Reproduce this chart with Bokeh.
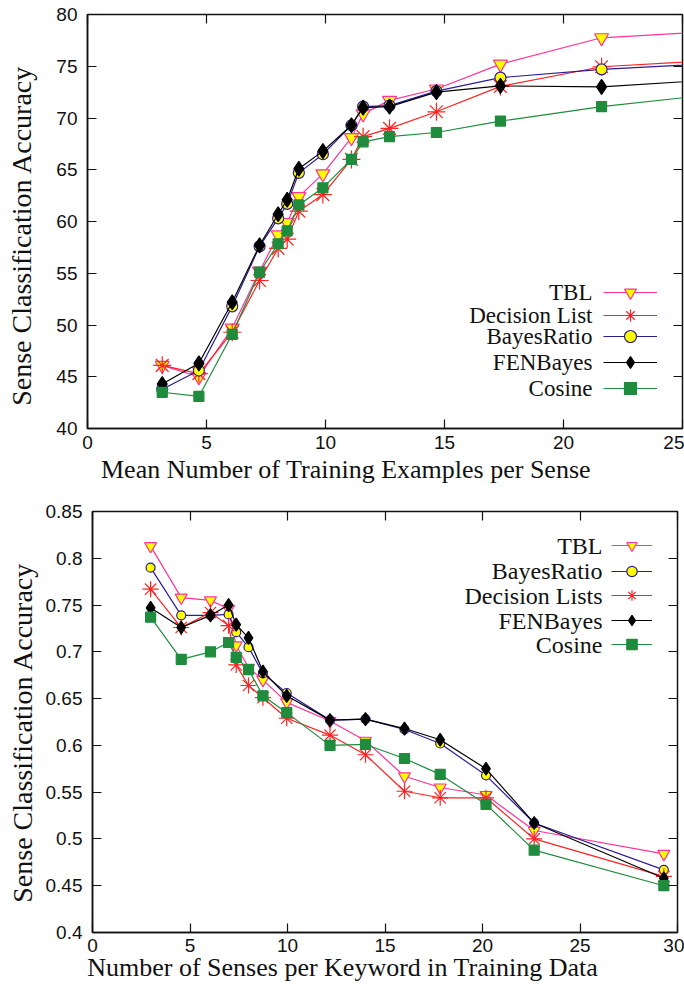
from bokeh.plotting import figure
from bokeh.models import LinearAxis, FixedTicker, Legend, LegendItem, Label, Range1d
from bokeh.layouts import column
from bokeh.embed import file_html
from bokeh.resources import INLINE

# ---------------- data: top chart ----------------
top_x = [3.14, 4.68, 6.08, 7.23, 8.01, 8.39, 8.88, 9.89, 11.09, 11.58, 12.69, 14.66, 17.35, 21.6, 27.0]
top_tbl = [46.1, 45.0, 49.7, 55.2, 58.7, 59.9, 62.4, 64.6, 68.1, 70.4, 71.7, 72.8, 75.2, 77.75, 78.46]
top_dl = [46.1, 45.3, 49.3, 54.3, 57.4, 58.3, 61.0, 62.6, 66.0, 68.2, 69.0, 70.6, 73.05, 74.95, 75.65]
top_br = [43.8, 45.6, 51.8, 57.6, 60.3, 61.7, 64.7, 66.5, 69.3, 71.1, 71.2, 72.6, 73.9, 74.7, 75.34]
top_fen = [44.3, 46.3, 52.2, 57.7, 60.7, 62.1, 65.1, 66.8, 69.3, 71.0, 71.1, 72.5, 73.1, 73.0, 73.79]
top_cos = [43.5, 43.1, 49.1, 55.1, 57.85, 59.1, 61.6, 63.25, 66.0, 67.7, 68.2, 68.6, 69.7, 71.1, 72.45]
top_names = ["TBL", "Decision List", "BayesRatio", "FENBayes", "Cosine"]
top_xticks = [0, 5, 10, 15, 20, 25]
top_xtick_labels = ["0", "5", "10", "15", "20", "25"]
top_yticks = [40, 45, 50, 55, 60, 65, 70, 75, 80]
top_ytick_labels = ["40", "45", "50", "55", "60", "65", "70", "75", "80"]
top_xlabel = "Mean Number of Training Examples per Sense"
top_ylabel = "Sense Classification Accuracy"

# ---------------- data: bottom chart ----------------
bot_x = [2.98, 4.55, 6.05, 6.98, 7.37, 8.0, 8.74, 9.96, 12.18, 14.0, 16.0, 17.83, 20.18, 22.65, 29.3]
bot_tbl = [0.813, 0.758, 0.755, 0.746, 0.707, 0.683, 0.670, 0.646, 0.626, 0.605, 0.567, 0.555, 0.547, 0.509, 0.484]
bot_br = [0.790, 0.739, 0.739, 0.740, 0.721, 0.705, 0.677, 0.656, 0.627, 0.628, 0.617, 0.602, 0.568, 0.517, 0.467]
bot_dl = [0.767, 0.726, 0.742, 0.728, 0.686, 0.664, 0.651, 0.629, 0.611, 0.590, 0.551, 0.544, 0.544, 0.500, 0.460]
bot_fen = [0.747, 0.726, 0.739, 0.750, 0.729, 0.715, 0.679, 0.653, 0.627, 0.628, 0.618, 0.606, 0.575, 0.517, 0.458]
bot_cos = [0.737, 0.692, 0.700, 0.710, 0.694, 0.681, 0.653, 0.635, 0.600, 0.601, 0.586, 0.569, 0.537, 0.488, 0.450]
bot_names = ["TBL", "BayesRatio", "Decision Lists", "FENBayes", "Cosine"]
bot_xticks = [0, 5, 10, 15, 20, 25, 30]
bot_xtick_labels = ["0", "5", "10", "15", "20", "25", "30"]
bot_yticks = [0.4, 0.45, 0.5, 0.55, 0.6, 0.65, 0.7, 0.75, 0.8, 0.85]
bot_ytick_labels = ["0.4", "0.45", "0.5", "0.55", "0.6", "0.65", "0.7", "0.75", "0.8", "0.85"]
bot_xlabel = "Number of Senses per Keyword in Training Data"
bot_ylabel = "Sense Classification Accuracy"

PINK = "#ff3399"
RED = "#ff2222"
BLUE = "#2c1c96"
BLACK = "#000000"
GREEN = "#1e8c3c"
INK = "#111111"
SERIF = "Liberation Serif"
NBSP = "\u00a0"

STYLES = {
    "TBL": dict(color=PINK, marker="inverted_triangle", fill="#ffff00"),
    "Decision List": dict(color=RED, marker="asterisk", fill=RED),
    "Decision Lists": dict(color=RED, marker="asterisk", fill=RED),
    "BayesRatio": dict(color=BLUE, marker="circle", fill="#ffff00"),
    "FENBayes": dict(color=BLACK, marker="diamond", fill=BLACK),
    "Cosine": dict(color=GREEN, marker="square", fill=GREEN),
}


def make_fig(width, height, xr, yr, mb):
    p = figure(width=width, height=height, x_range=Range1d(*xr), y_range=Range1d(*yr),
               output_backend="svg", toolbar_location=None,
               min_border_left=mb[0], min_border_right=mb[1],
               min_border_top=mb[2], min_border_bottom=mb[3])
    if "frame_align" in p.properties():
        p.frame_align = False
    p.xgrid.visible = False
    p.ygrid.visible = False
    p.outline_line_color = INK
    p.outline_line_width = 1.5
    p.background_fill_color = "white"
    p.border_fill_color = "white"
    return p


def style_axes(p, xt, xtl, yt, ytl, xlabel, ylabel, xstand, xlstand, ystand, ylstand):
    xa = p.xaxis[0]
    ya = p.yaxis[0]
    for ax, ticks, labs in ((xa, xt, xtl), (ya, yt, ytl)):
        ax.ticker = FixedTicker(ticks=ticks)
        ax.major_label_overrides = {t: l for t, l in zip(ticks, labs)}
        ax.major_tick_in = 9
        ax.major_tick_out = 0
        ax.major_tick_line_color = INK
        ax.major_tick_line_width = 1.2
        ax.minor_tick_line_color = None
        ax.axis_line_color = INK
        ax.axis_line_width = 1.5
        ax.major_label_text_font = "Liberation Sans"
        ax.major_label_text_font_size = "19px"
        ax.major_label_text_color = INK
        ax.axis_label_text_font = SERIF
        ax.axis_label_text_font_style = "normal"
        ax.axis_label_text_color = INK
    xa.axis_label_text_font_size = "26px"
    ya.axis_label_text_font_size = "28px"
    xa.axis_label = xlabel
    ya.axis_label = ylabel
    xa.major_label_standoff = xstand
    xa.axis_label_standoff = xlstand
    ya.major_label_standoff = ystand
    ya.axis_label_standoff = ylstand
    # mirrored inward ticks on top and right (no labels)
    for loc, ticks in (("above", xt), ("right", yt)):
        m = LinearAxis(ticker=FixedTicker(ticks=ticks), major_label_text_font_size="0px",
                       major_label_text_color=None,
                       major_tick_in=9, major_tick_out=0, major_label_standoff=0,
                       major_tick_line_color=INK, major_tick_line_width=1.2,
                       minor_tick_line_color=None, axis_line_color=None)
        p.add_layout(m, loc)


def add_series(p, xs, ys, name, sizes):
    st = STYLES[name]
    lr = p.line(xs, ys, line_color=st["color"], line_width=1.2)
    sr = p.scatter(xs, ys, marker=st["marker"], size=sizes[st["marker"]],
                   fill_color=st["fill"], line_color=st["color"], line_width=1.2)
    return [lr, sr]


def add_key(p, rends, names, frame_h, rows, lx, gw, gh, text_x, font_size):
    # rows: row centres measured from the frame top (px)
    for r, nm, rc in zip(rends, names, rows):
        yrel = frame_h - rc
        leg = Legend(items=[LegendItem(label=" ", renderers=r)],
                     location=(lx, int(round(yrel - gh / 2))),
                     glyph_width=gw, glyph_height=gh, spacing=0,
                     padding=0, margin=0, label_standoff=0, label_width=0, label_height=0,
                     label_text_font_size="1px", label_text_color=None,
                     border_line_color=None, background_fill_alpha=0)
        p.add_layout(leg)
        p.add_layout(Label(x=text_x, y=yrel, x_units="screen", y_units="screen",
                           text=nm, text_align="right", text_baseline="middle",
                           text_font=SERIF, text_font_size=font_size, text_color=INK))


# ---------------- top figure ----------------
# frame: left 87, right 682, top 14, bottom 428 (page px)
p1 = make_fig(684, 492, (0, 25), (40, 80), (87, 2, 14, 64))
style_axes(p1, top_xticks, top_xtick_labels, top_yticks, top_ytick_labels,
           top_xlabel + NBSP * 12, top_ylabel + NBSP * 4, 7, 3, 10, 16)
sizes_top = {"inverted_triangle": 14, "asterisk": 18, "circle": 11, "diamond": 15, "square": 10}
rend1 = [add_series(p1, top_x, ys, nm, sizes_top)
         for nm, ys in zip(top_names, [top_tbl, top_dl, top_br, top_fen, top_cos])]
add_key(p1, rend1, top_names, 414, [277.7, 301, 321.7, 348.3, 373.7], 516, 54, 30, 505, "23px")

# ---------------- bottom figure ----------------
# frame: left 92, right 677, top 511, bottom 932 (page px)
p2 = make_fig(684, 500, (0, 30), (0.4, 0.85), (92, 7, 19, 60))
style_axes(p2, bot_xticks, bot_xtick_labels, bot_yticks, bot_ytick_labels,
           bot_xlabel + NBSP * 13, bot_ylabel + NBSP * 3, 6, -2, 10, 5)
sizes_bot = {"inverted_triangle": 12, "asterisk": 16, "circle": 9, "diamond": 13, "square": 10}
rend2 = [add_series(p2, bot_x, ys, nm, sizes_bot)
         for nm, ys in zip(bot_names, [bot_tbl, bot_br, bot_dl, bot_fen, bot_cos])]
add_key(p2, rend2, bot_names, 421, [34, 59.7, 84, 109, 133.3], 519, 41, 26, 510, "24px")

layout = column(p1, p2, spacing=0)
open("out.html", "w").write(file_html(layout, INLINE))
